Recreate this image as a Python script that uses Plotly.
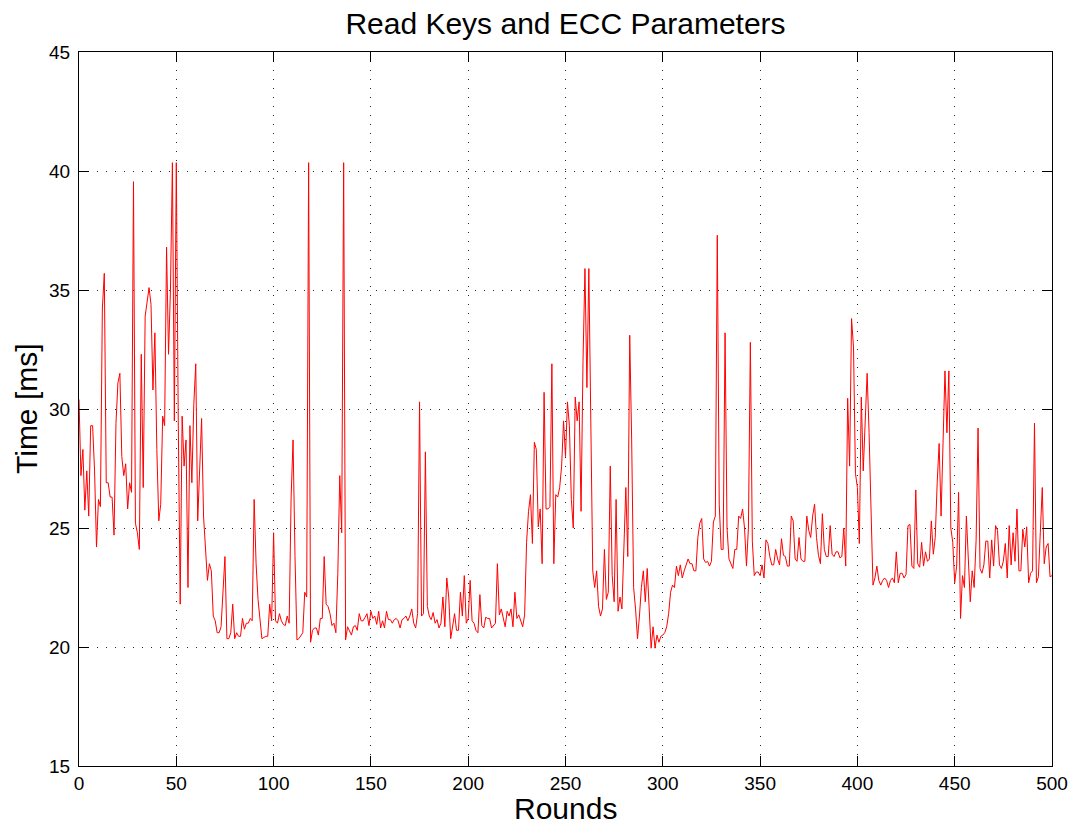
import plotly.graph_objects as go

# Time per round (ms), rounds 0..500
rounds = list(range(0, 501))
time_ms = [
    30.4, 27.2, 28.3, 25.75, 27.4, 25.5, 29.3, 29.3, 27.4, 24.2,
    26.2, 25.9, 34.2, 35.7, 26.9, 26.9, 26.3, 26.3, 24.7, 29.4,
    31.1, 31.5, 28.0, 27.2, 27.7, 25.8, 26.9, 26.5, 39.55, 25.2,
    24.8, 24.1, 32.3, 26.7, 33.9, 34.6, 35.1, 34.4, 30.8, 33.2,
    28.3, 25.3, 26.0, 29.7, 29.3, 36.8, 32.3, 35.0, 40.35, 29.5,
    40.35, 29.5, 21.8, 29.7, 27.6, 28.7, 22.5, 29.3, 26.9, 30.2,
    31.9, 25.3, 27.6, 29.6, 25.5, 24.0, 22.8, 23.5, 23.2, 21.3,
    21.1, 20.6, 20.6, 20.85, 22.2, 23.8, 20.35, 20.35, 20.6, 21.8,
    20.35, 20.6, 20.45, 20.45, 21.2, 20.75, 21.0, 21.0, 21.2, 21.1,
    26.2, 23.5, 22.0, 21.1, 20.35, 20.4, 20.45, 20.45, 21.8, 21.1,
    24.8, 21.1, 21.0, 21.4, 21.1, 20.95, 20.9, 21.3, 21.0, 26.3,
    28.7, 23.8, 20.3, 20.35, 20.45, 20.6, 22.3, 22.1, 40.35, 20.2,
    20.7, 20.8, 20.8, 20.5, 21.2, 21.2, 23.8, 21.8, 21.7, 21.4,
    20.9, 21.0, 20.6, 23.1, 27.2, 24.8, 40.35, 20.3, 20.85, 20.7,
    20.5, 20.85, 20.9, 20.7, 21.4, 21.1, 21.1, 21.25, 21.4, 20.9,
    21.5, 21.2, 21.3, 20.95, 21.5, 20.8, 21.1, 20.8, 21.5, 21.15,
    21.15, 21.0, 21.15, 21.2, 21.1, 20.8, 21.15, 21.2, 21.3, 21.1,
    21.3, 21.6, 21.0, 20.8, 21.4, 30.3, 21.3, 21.4, 28.2, 21.7,
    21.3, 21.15, 21.45, 21.0, 21.15, 20.8, 21.0, 22.1, 20.85, 22.9,
    22.1, 20.35, 20.85, 21.4, 20.7, 20.7, 22.3, 21.3, 23.0, 21.0,
    21.2, 22.8, 21.1, 21.0, 20.7, 20.6, 22.2, 20.9, 20.8, 21.25,
    21.2, 21.2, 20.8, 20.9, 21.0, 23.5, 21.35, 21.6, 21.2, 20.85,
    21.5, 21.3, 21.6, 20.85, 22.3, 21.2, 21.35, 21.1, 20.85, 21.35,
    24.4, 25.7, 26.4, 24.35, 28.6, 28.3, 25.05, 25.8, 23.5, 30.7,
    25.8, 25.8, 25.9, 31.9, 23.5, 26.4, 26.3, 26.7, 27.6, 29.5,
    28.0, 30.3, 29.3, 26.2, 25.0, 30.5, 29.5, 30.3, 25.7, 32.0,
    35.9, 30.9, 35.9, 29.5, 23.2, 22.5, 23.2, 21.7, 21.3, 21.6,
    24.1, 22.0, 22.3, 27.6, 23.0, 21.9, 26.2, 21.5, 22.1, 21.6,
    24.0, 26.7, 23.8, 33.1, 28.7, 22.5, 21.6, 20.35, 21.3, 22.5,
    23.2, 21.9, 23.3, 21.4, 19.95, 20.85, 19.95, 20.5, 20.2, 20.45,
    20.5, 20.6, 20.85, 21.4, 22.3, 22.6, 22.5, 23.4, 23.0, 23.45,
    22.9, 23.2, 23.45, 23.7, 23.5, 23.5, 23.2, 23.2, 24.6, 25.2,
    25.4, 23.7, 23.55, 23.6, 23.4, 23.6, 25.25, 25.5, 37.3, 26.0,
    24.1, 24.1, 33.2, 25.0, 23.7, 23.45, 23.3, 24.1, 24.1, 25.5,
    25.4, 25.8, 25.0, 23.4, 25.0, 32.8, 24.45, 23.0, 23.15, 23.15,
    23.0, 23.45, 22.9, 24.5, 24.35, 23.8, 23.45, 23.45, 24.1, 23.7,
    23.45, 24.55, 23.85, 23.8, 23.4, 23.4, 25.5, 25.3, 23.7, 23.6,
    24.6, 23.7, 23.6, 23.6, 25.5, 24.9, 24.6, 25.5, 26.0, 24.6,
    23.85, 23.5, 25.6, 24.1, 23.8, 23.8, 25.1, 23.9, 23.8, 24.0,
    24.0, 23.75, 23.8, 25.0, 23.4, 30.45, 27.6, 33.8, 32.6, 27.3,
    26.7, 24.35, 30.5, 27.4, 29.3, 31.5, 29.0, 26.0, 22.6, 22.9,
    23.4, 22.8, 22.6, 22.8, 22.9, 22.8, 22.5, 22.8, 22.9, 22.7,
    24.0, 22.7, 23.1, 23.1, 22.9, 23.05, 25.1, 25.15, 23.4, 23.3,
    26.6, 23.5, 23.35, 24.4, 23.4, 24.0, 23.6, 23.7, 25.3, 23.9,
    24.6, 26.9, 28.55, 25.5, 28.1, 31.6, 29.0, 31.6, 25.0, 24.4,
    22.7, 23.4, 26.5, 21.2, 23.0, 22.5, 25.5, 23.7, 21.9, 23.2,
    22.5, 24.5, 29.2, 23.3, 23.1, 23.45, 24.45, 24.45, 22.9, 24.5,
    23.4, 25.1, 24.9, 23.45, 23.3, 23.6, 24.35, 22.9, 25.1, 23.45,
    24.8, 23.6, 25.8, 23.2, 23.2, 24.95, 24.2, 25.05, 22.7, 23.1,
    23.2, 29.4, 22.7, 22.95, 24.8, 26.7, 23.5, 24.2, 24.35, 22.95,
    23.0,
]

x_ticks = [0, 50, 100, 150, 200, 250, 300, 350, 400, 450, 500]
y_ticks = [15, 20, 25, 30, 35, 40, 45]

FONT = "Helvetica, Liberation Sans, Arial, sans-serif"

fig = go.Figure()
fig.add_trace(go.Scatter(
    x=rounds, y=time_ms, mode="lines",
    line=dict(color="#ff0000", width=1),
    hoverinfo="skip", showlegend=False,
))

axis_common = dict(
    showline=True, linecolor="black", linewidth=1, mirror="ticks",
    ticks="inside", ticklen=10, tickwidth=1, tickcolor="black",
    showgrid=True, gridcolor="rgba(0,0,0,0.85)", gridwidth=1,
    griddash="1px,8px", zeroline=False, automargin=False,
    tickfont=dict(family=FONT, size=19, color="black"),
)

fig.update_xaxes(range=[0, 500], tickvals=x_ticks,
                 ticktext=[str(v) for v in x_ticks], **axis_common)
fig.update_yaxes(range=[15, 45], tickvals=y_ticks,
                 ticktext=[str(v) for v in y_ticks], ticklabelstandoff=4,
                 **axis_common)

fig.update_layout(
    width=1072, height=825,
    margin=dict(l=79, r=20, t=52, b=59, autoexpand=False),
    paper_bgcolor="white", plot_bgcolor="white",
    title=dict(text="Read Keys and ECC Parameters", x=0.5275, xanchor="center",
               y=1 - 23 / 825, yanchor="middle", yref="container",
               font=dict(family=FONT, size=30, color="black"), automargin=False),
    annotations=[
        dict(text="Rounds", xref="paper", yref="paper", x=0.5, y=(766 - 808) / 714,
             xanchor="center", yanchor="middle", showarrow=False,
             font=dict(family=FONT, size=30, color="black")),
        dict(text="Time [ms]", xref="paper", yref="paper", x=(26 - 79) / 973, y=0.5,
             xanchor="center", yanchor="middle", textangle=-90, showarrow=False,
             font=dict(family=FONT, size=30, color="black")),
    ],
)

fig.write_html("out.html")
